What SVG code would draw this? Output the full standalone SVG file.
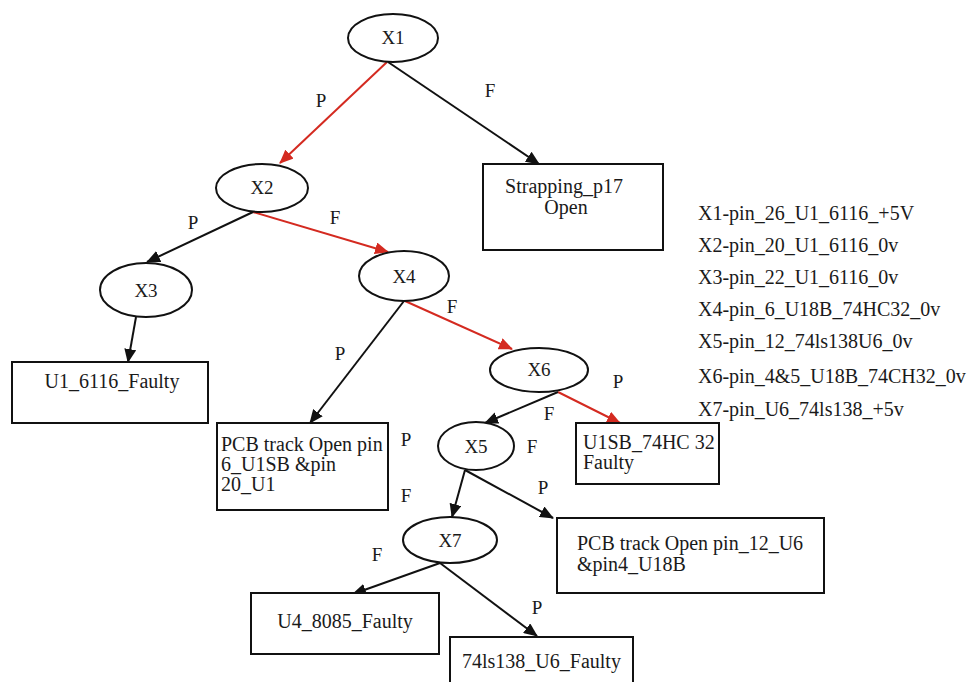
<svg xmlns="http://www.w3.org/2000/svg" width="972" height="682" viewBox="0 0 972 682">
<defs>
<marker id="ab" markerUnits="userSpaceOnUse" markerWidth="14" markerHeight="12" refX="13" refY="6" orient="auto" viewBox="0 0 14 12"><path d="M0,0 L14,6 L0,12 z" fill="#111"/></marker>
<marker id="ar" markerUnits="userSpaceOnUse" markerWidth="14" markerHeight="12" refX="13" refY="6" orient="auto" viewBox="0 0 14 12"><path d="M0,0 L14,6 L0,12 z" fill="#d42a20"/></marker>
</defs>
<rect width="972" height="682" fill="#fff"/>
<g id="connectors" fill="none" stroke-width="2">
<g stroke="#d42a20" marker-end="url(#ar)">
<line x1="387" y1="62" x2="280" y2="163"/>
<line x1="253" y1="212" x2="388" y2="252"/>
<line x1="405" y1="301" x2="512" y2="349"/>
<line x1="558" y1="392" x2="620" y2="423"/>
</g>
<g stroke="#111" marker-end="url(#ab)">
<line x1="388" y1="62" x2="539" y2="164"/>
<line x1="253" y1="212" x2="147" y2="262"/>
<line x1="136" y1="317" x2="128" y2="362"/>
<line x1="404" y1="301" x2="310" y2="423"/>
<line x1="558" y1="392" x2="485" y2="423"/>
<line x1="465" y1="470" x2="452" y2="517"/>
<line x1="465" y1="470" x2="553" y2="518"/>
<line x1="440" y1="563" x2="353" y2="594"/>
<line x1="440" y1="563" x2="537" y2="636"/>
</g>
<g stroke="none" fill="#1a1a1a" text-anchor="middle">
<text x="321" y="107" style="font-family:'Liberation Serif',serif;font-size:19px">P</text>
<text x="490" y="97" style="font-family:'Liberation Serif',serif;font-size:19px">F</text>
<text x="193" y="229" style="font-family:'Liberation Serif',serif;font-size:19px">P</text>
<text x="335" y="224" style="font-family:'Liberation Serif',serif;font-size:19px">F</text>
<text x="340" y="360" style="font-family:'Liberation Serif',serif;font-size:19px">P</text>
<text x="452" y="313" style="font-family:'Liberation Serif',serif;font-size:19px">F</text>
<text x="618" y="388" style="font-family:'Liberation Serif',serif;font-size:19px">P</text>
<text x="549" y="420" style="font-family:'Liberation Serif',serif;font-size:19px">F</text>
<text x="406" y="446" style="font-family:'Liberation Serif',serif;font-size:19px">P</text>
<text x="532" y="453" style="font-family:'Liberation Serif',serif;font-size:19px">F</text>
<text x="406" y="502" style="font-family:'Liberation Serif',serif;font-size:19px">F</text>
<text x="543" y="494" style="font-family:'Liberation Serif',serif;font-size:19px">P</text>
<text x="377" y="561" style="font-family:'Liberation Serif',serif;font-size:19px">F</text>
<text x="537" y="614" style="font-family:'Liberation Serif',serif;font-size:19px">P</text>
</g>
</g>
<g id="nodes" fill="#fff" stroke="#111" stroke-width="2">
<g id="X1"><ellipse cx="393" cy="38" rx="45" ry="24"/><text x="393" y="44" stroke="none" fill="#1a1a1a" text-anchor="middle" style="font-family:'Liberation Serif',serif;font-size:19px">X1</text></g>
<g id="X2"><ellipse cx="262" cy="188" rx="46" ry="24"/><text x="262" y="194" stroke="none" fill="#1a1a1a" text-anchor="middle" style="font-family:'Liberation Serif',serif;font-size:19px">X2</text></g>
<g id="X3"><ellipse cx="146" cy="290" rx="46" ry="27"/><text x="146" y="297" stroke="none" fill="#1a1a1a" text-anchor="middle" style="font-family:'Liberation Serif',serif;font-size:19px">X3</text></g>
<g id="X4"><ellipse cx="404" cy="276" rx="45" ry="25"/><text x="404" y="283" stroke="none" fill="#1a1a1a" text-anchor="middle" style="font-family:'Liberation Serif',serif;font-size:19px">X4</text></g>
<g id="X6"><ellipse cx="539" cy="370" rx="49" ry="22"/><text x="539" y="376" stroke="none" fill="#1a1a1a" text-anchor="middle" style="font-family:'Liberation Serif',serif;font-size:19px">X6</text></g>
<g id="X5"><ellipse cx="476" cy="446" rx="38" ry="24"/><text x="476" y="453" stroke="none" fill="#1a1a1a" text-anchor="middle" style="font-family:'Liberation Serif',serif;font-size:19px">X5</text></g>
<g id="X7"><ellipse cx="450" cy="540" rx="47" ry="23"/><text x="450" y="547" stroke="none" fill="#1a1a1a" text-anchor="middle" style="font-family:'Liberation Serif',serif;font-size:19px">X7</text></g>
<g id="strapping"><rect x="483" y="164" width="180" height="86"/><text x="564" y="193" stroke="none" fill="#1a1a1a" text-anchor="middle" style="font-family:'Liberation Serif',serif;font-size:20px">Strapping_p17</text><text x="566" y="214" stroke="none" fill="#1a1a1a" text-anchor="middle" style="font-family:'Liberation Serif',serif;font-size:20px">Open</text></g>
<g id="u1_6116"><rect x="12" y="362" width="196" height="61"/><text x="112" y="388" stroke="none" fill="#1a1a1a" text-anchor="middle" style="font-family:'Liberation Serif',serif;font-size:20px">U1_6116_Faulty</text></g>
<g id="pcb1"><rect x="217" y="423" width="171" height="87"/><text x="221" y="451" stroke="none" fill="#1a1a1a" style="font-family:'Liberation Serif',serif;font-size:20px">PCB track Open pin</text><text x="221" y="471" stroke="none" fill="#1a1a1a" style="font-family:'Liberation Serif',serif;font-size:20px">6_U1SB &amp;pin</text><text x="221" y="491" stroke="none" fill="#1a1a1a" style="font-family:'Liberation Serif',serif;font-size:20px">20_U1</text></g>
<g id="u1sb"><rect x="576" y="423" width="143" height="61"/><text x="583" y="449" stroke="none" fill="#1a1a1a" style="font-family:'Liberation Serif',serif;font-size:20px">U1SB_74HC 32</text><text x="583" y="469" stroke="none" fill="#1a1a1a" style="font-family:'Liberation Serif',serif;font-size:20px">Faulty</text></g>
<g id="pcb2"><rect x="557" y="518" width="267" height="75"/><text x="577" y="550" stroke="none" fill="#1a1a1a" style="font-family:'Liberation Serif',serif;font-size:20px">PCB track Open pin_12_U6</text><text x="577" y="571" stroke="none" fill="#1a1a1a" style="font-family:'Liberation Serif',serif;font-size:20px">&amp;pin4_U18B</text></g>
<g id="u4"><rect x="251" y="593" width="188" height="61"/><text x="345" y="628" stroke="none" fill="#1a1a1a" text-anchor="middle" style="font-family:'Liberation Serif',serif;font-size:20px">U4_8085_Faulty</text></g>
<g id="ls138"><rect x="450" y="637" width="183" height="60"/><text x="462" y="668" stroke="none" fill="#1a1a1a" style="font-family:'Liberation Serif',serif;font-size:20px">74ls138_U6_Faulty</text></g>
</g>
<g id="legend" fill="#1a1a1a">
<text x="698" y="220" style="font-family:'Liberation Serif',serif;font-size:20px">X1-pin_26_U1_6116_+5V</text>
<text x="698" y="252" style="font-family:'Liberation Serif',serif;font-size:20px">X2-pin_20_U1_6116_0v</text>
<text x="698" y="284" style="font-family:'Liberation Serif',serif;font-size:20px">X3-pin_22_U1_6116_0v</text>
<text x="698" y="316" style="font-family:'Liberation Serif',serif;font-size:20px">X4-pin_6_U18B_74HC32_0v</text>
<text x="698" y="348" style="font-family:'Liberation Serif',serif;font-size:20px">X5-pin_12_74ls138U6_0v</text>
<text x="698" y="383" style="font-family:'Liberation Serif',serif;font-size:20px">X6-pin_4&amp;5_U18B_74CH32_0v</text>
<text x="698" y="416" style="font-family:'Liberation Serif',serif;font-size:20px">X7-pin_U6_74ls138_+5v</text>
</g>
</svg>
